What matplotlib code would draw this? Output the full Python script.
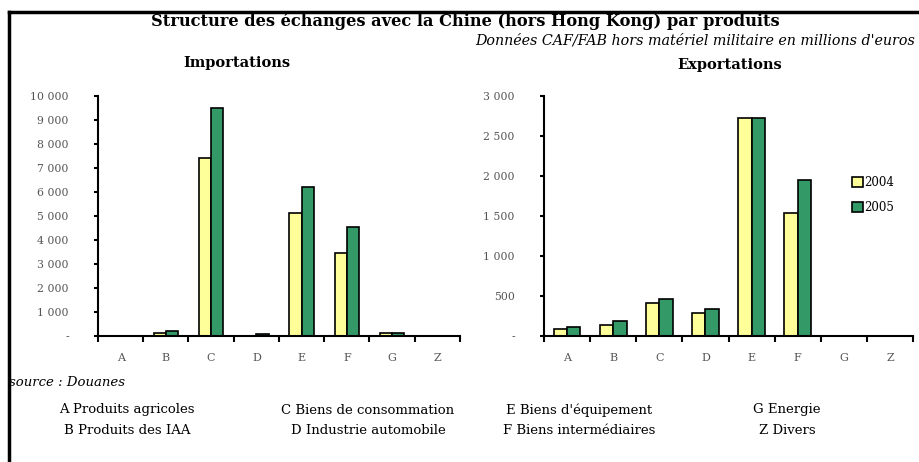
import matplotlib
matplotlib.use("Agg")
import matplotlib.pyplot as plt
from matplotlib.lines import Line2D
from matplotlib.ticker import FuncFormatter, FixedLocator
import numpy as np

plt.rcParams['font.family'] = ['DejaVu Serif', 'Liberation Serif']

categories = ["A", "B", "C", "D", "E", "F", "G", "Z"]
years = ["2004", "2005"]
imports_2004 = [0, 110, 7400, 20, 5130, 3460, 110, 0]
imports_2005 = [0, 210, 9490, 100, 6220, 4550, 110, 0]
exports_2004 = [85, 133, 408, 283, 2720, 1542, 0, 0]
exports_2005 = [108, 188, 458, 333, 2720, 1946, 0, 0]
imp_ticks = [0, 1000, 2000, 3000, 4000, 5000, 6000, 7000, 8000, 9000, 10000]
exp_ticks = [0, 500, 1000, 1500, 2000, 2500, 3000]
descriptions = [["A Produits agricoles", "B Produits des IAA"],
                ["C Biens de consommation", "D Industrie automobile"],
                ["E Biens d'équipement", "F Biens intermédiaires"],
                ["G Energie", "Z Divers"]]

YELLOW = "#FFFF99"
GREEN = "#339966"
W, H = 920, 462
fig = plt.figure(figsize=(W / 100, H / 100), dpi=100)

def fmt(v, pos):
    if v == 0:
        return "-"
    return f"{int(v):,}".replace(",", " ")

def make_axes(x0, x1, y0, y1, s04, s05, ticks, bw):
    ax = fig.add_axes([x0 / W, 1 - y1 / H, (x1 - x0) / W, (y1 - y0) / H])
    x = np.arange(len(categories))
    ax.bar(x - bw / 2, s04, bw, color=YELLOW, edgecolor="black", linewidth=1.2, label=years[0])
    ax.bar(x + bw / 2, s05, bw, color=GREEN, edgecolor="black", linewidth=1.2, label=years[1])
    ax.set_xlim(-0.5, len(categories) - 0.5)
    ax.set_ylim(0, ticks[-1])
    ax.set_yticks(ticks)
    ax.yaxis.set_major_formatter(FuncFormatter(fmt))
    ax.xaxis.set_major_locator(FixedLocator(np.arange(len(categories) + 1) - 0.5))
    ax.xaxis.set_major_formatter(FuncFormatter(lambda v, p: ""))
    ax.set_xticks(x, minor=True)
    ax.set_xticklabels(categories, minor=True)
    for s in ("top", "right"):
        ax.spines[s].set_visible(False)
    for s in ("left", "bottom"):
        ax.spines[s].set_linewidth(1.5)
    ax.tick_params(axis="y", length=3, width=1.5, pad=18, labelsize=7.8, labelcolor="#555555")
    ax.tick_params(axis="x", which="major", length=4.5, width=1.5)
    ax.tick_params(axis="x", which="minor", length=0, pad=12, labelsize=8, labelcolor="#555555")
    return ax

ax1 = make_axes(98, 460, 96, 336, imports_2004, imports_2005, imp_ticks, 0.27)
ax2 = make_axes(544, 913, 96, 336, exports_2004, exports_2005, exp_ticks, 0.29)

ax2.legend(loc="center left", bbox_to_anchor=(846 / W, 1 - 195 / H), bbox_transform=fig.transFigure,
           frameon=False, fontsize=8.5, handlelength=0.9, handleheight=0.9, handletextpad=0.15,
           labelspacing=1.0, borderpad=0)

fig.text(465 / W, 1 - 21 / H, "Structure des échanges avec la Chine (hors Hong Kong) par produits",
         ha="center", va="center", fontsize=11.7, fontweight="bold")
fig.text(915 / W, 1 - 41 / H, "Données CAF/FAB hors matériel militaire en millions d'euros",
         ha="right", va="center", fontsize=10.3, style="italic")
fig.text(237 / W, 1 - 63 / H, "Importations", ha="center", va="center", fontsize=10.5, fontweight="bold")
fig.text(730 / W, 1 - 65 / H, "Exportations", ha="center", va="center", fontsize=10.5, fontweight="bold")
fig.text(9 / W, 1 - 383 / H, "source : Douanes", ha="left", va="center", fontsize=9.5, style="italic")

centers = [127, 368, 579, 787]
for cx, pair in zip(centers, descriptions):
    fig.text(cx / W, 1 - 410 / H, pair[0], ha="center", va="center", fontsize=9.5)
    fig.text(cx / W, 1 - 431 / H, pair[1], ha="center", va="center", fontsize=9.5)

fig.add_artist(Line2D([9 / W, 9 / W], [0, 1 - 12 / H], color="black", lw=2.5, transform=fig.transFigure))
fig.add_artist(Line2D([9 / W, 1], [1 - 12 / H, 1 - 12 / H], color="black", lw=2.5, transform=fig.transFigure))

fig.savefig("out.png", dpi=100)
